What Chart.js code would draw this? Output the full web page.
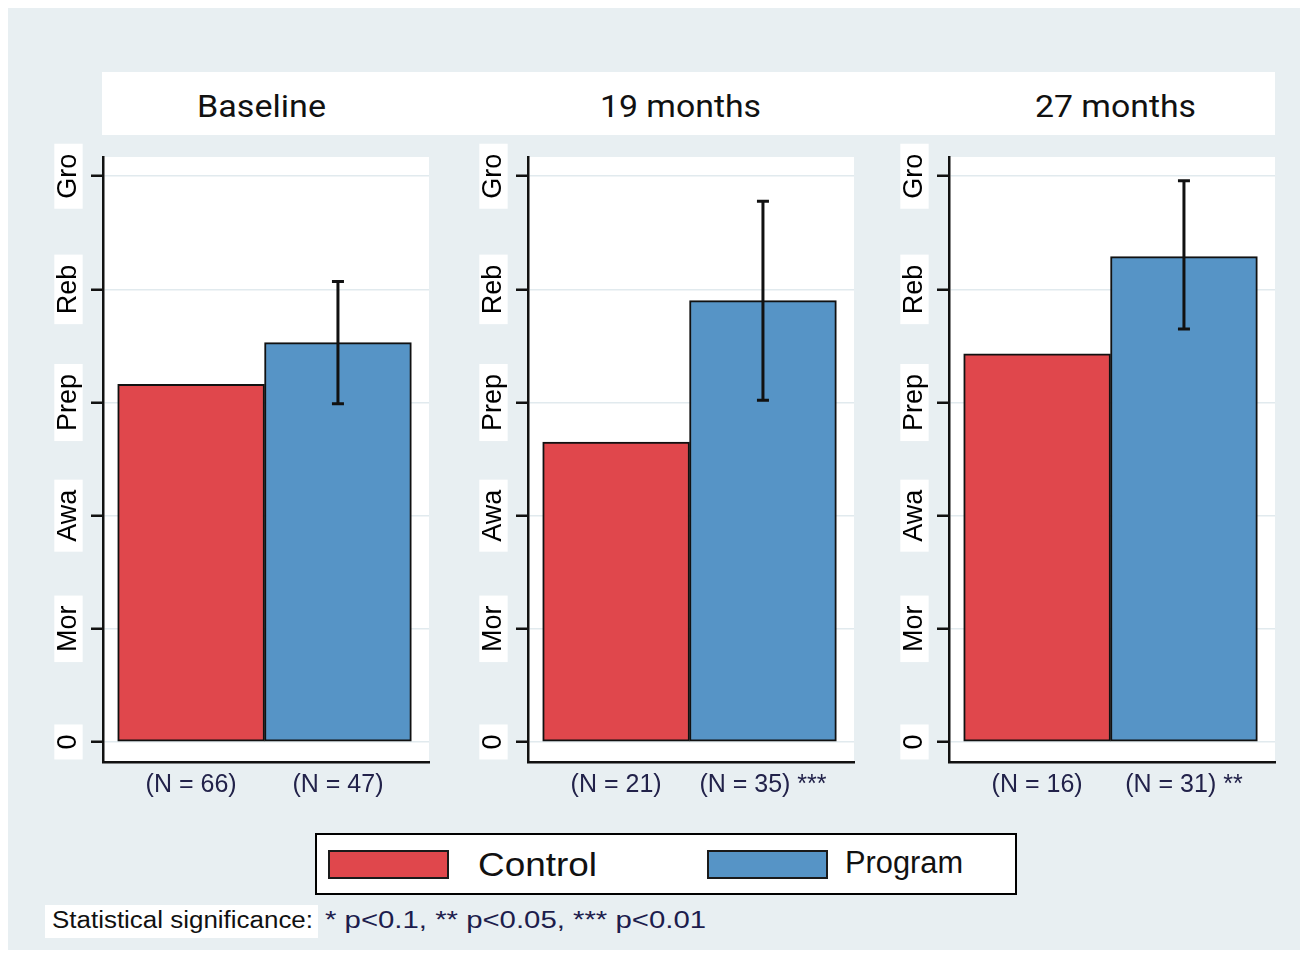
<!DOCTYPE html>
<html>
<head>
<meta charset="utf-8">
<script src="https://cdn.jsdelivr.net/npm/chart.js@4.4.1/dist/chart.umd.min.js"></script>
<style>
  body { margin: 0; width: 1308px; height: 955px; position: relative; background: #fff; overflow: hidden;
         font-family: "Liberation Sans", Arial, sans-serif; }
  .abs { position: absolute; }
  #bg { left: 8px; top: 8px; width: 1292px; height: 942px; background: #e8eff2; }
  #head { left: 102px; top: 72px; width: 1173px; height: 63px; background: #fff; }
  .txt { position: absolute; white-space: nowrap; line-height: 1; transform-origin: left top; }
  .title { font-family: Roboto, sans-serif; font-size: 31px; color: #111; }
  canvas.panel { position: absolute; }
  #legend { left: 315px; top: 833px; width: 698px; height: 58px; border: 2px solid #000; background: #fff; }
  .sw { position: absolute; border: 2px solid #1a1a1a; box-sizing: border-box; }
  #sigbox { left: 45px; top: 905px; width: 273px; height: 33px; background: #fff; }
</style>
</head>
<body>
<div id="bg" class="abs"></div>
<div id="head" class="abs"></div>
<div id="legend" class="abs"></div>
<div id="sigbox" class="abs"></div>
<canvas id="p0" class="panel" width="390" height="669" style="left:43px;top:141px"></canvas>
<canvas id="p1" class="panel" width="390" height="669" style="left:468px;top:141px"></canvas>
<canvas id="p2" class="panel" width="390" height="669" style="left:889px;top:141px"></canvas>

<script>
// values (0 = lowest stage, 5 = Gro)
const panelTitles = ["Baseline", "19 months", "27 months"];
const yValues = [0, 1, 2, 3, 4, 5];
const yLabels = ["0", "Mor", "Awa", "Prep", "Reb", "Gro"];
const controlMeans = [3.16, 2.65, 3.43];
const programMeans = [3.53, 3.90, 4.29];
const programLow = [2.99, 3.02, 3.65];
const programHigh = [4.07, 4.78, 4.96];
const controlLabels = ["(N = 66)", "(N = 21)", "(N = 16)"];
const programLabels = ["(N = 47)", "(N = 35) ***", "(N = 31) **"];
const seriesNames = ["Control", "Program"];

const RED = "#e0474c";
const BLUE = "#5694c6";

Chart.defaults.font.family = '"Liberation Sans", Arial, sans-serif';

// white plotting region
const plotBg = {
  id: "plotBg",
  beforeDraw(chart) {
    const { ctx, chartArea: a } = chart;
    ctx.save();
    ctx.fillStyle = "#fff";
    ctx.fillRect(a.left, a.top, a.right - a.left, a.bottom - a.top);
    ctx.restore();
  }
};

function errorBars(i) {
  return {
    id: "errorBars",
    afterDatasetsDraw(chart) {
      const { ctx } = chart;
      const xs = chart.scales.x, ys = chart.scales.y;
      const x = xs.getPixelForValue(1);
      const top = ys.getPixelForValue(programHigh[i]);
      const bot = ys.getPixelForValue(programLow[i]);
      ctx.save();
      ctx.strokeStyle = "#111";
      ctx.lineWidth = 3;
      ctx.beginPath();
      ctx.moveTo(x, top); ctx.lineTo(x, bot);
      ctx.moveTo(x - 6, top); ctx.lineTo(x + 6, top);
      ctx.moveTo(x - 6, bot); ctx.lineTo(x + 6, bot);
      ctx.stroke();
      ctx.restore();
    }
  };
}

function makePanel(i) {
  return new Chart(document.getElementById("p" + i), {
    type: "bar",
    data: {
      datasets: [
        { label: seriesNames[0], data: [{ x: 0, y: controlMeans[i] }], backgroundColor: RED },
        { label: seriesNames[1], data: [{ x: 1, y: programMeans[i] }], backgroundColor: BLUE }
      ]
    },
    options: {
      responsive: false,
      animation: false,
      layout: { padding: { top: 16, right: 4 } },
      plugins: { legend: { display: false }, tooltip: { enabled: false } },
      datasets: {
        bar: {
          grouped: false,
          categoryPercentage: 1,
          barPercentage: 1,
          borderColor: "#111",
          borderWidth: 2,
          borderSkipped: false
        }
      },
      scales: {
        x: {
          type: "linear",
          min: -0.6,
          max: 1.62,
          bounds: "data",
          offset: false,
          afterBuildTicks: (s) => { s.ticks = [{ value: 0 }, { value: 1 }]; },
          afterFit: (s) => { s.height = 48; },
          ticks: {
            callback: (v) => (v === 0 ? controlLabels[i] : programLabels[i]),
            color: "#22224a",
            font: { size: 25 },
            padding: 0,
            maxRotation: 0
          },
          grid: { display: false },
          border: { color: "#111", width: 2.5 }
        },
        y: {
          min: -0.177,
          max: 5.17,
          bounds: "data",
          afterBuildTicks: (s) => { s.ticks = yValues.map((v) => ({ value: v })); },
          afterFit: (s) => { s.width = 60; },
          ticks: {
            callback: (v) => yLabels[yValues.indexOf(v)],
            color: "#000",
            font: { size: 27, lineHeight: 1.05 },
            minRotation: 90,
            maxRotation: 90,
            crossAlign: "center",
            padding: -6,
            showLabelBackdrop: true,
            backdropColor: "#fff",
            backdropPadding: { left: 10, right: 10, top: 0, bottom: 0 }
          },
          grid: {
            color: "#e1eaee",
            lineWidth: 1.5,
            tickColor: "#111",
            tickLength: 12,
            tickWidth: 2.5
          },
          border: { color: "#111", width: 2.5 }
        }
      }
    },
    plugins: [plotBg, errorBars(i)]
  });
}

[0, 1, 2].forEach(makePanel);

// text overlays: titles, legend, footnote
function addText(str, left, top, width, cls, style) {
  const el = document.createElement("div");
  el.className = "txt " + (cls || "");
  el.textContent = str;
  Object.assign(el.style, style || {});
  el.style.left = left + "px";
  el.style.top = top + "px";
  document.body.appendChild(el);
  const k = width / el.getBoundingClientRect().width;
  el.style.transform = "scaleX(" + k.toFixed(3) + ")";
  return el;
}

addText(panelTitles[0], 197, 91, 129, "title");
addText(panelTitles[1], 600, 91, 161, "title");
addText(panelTitles[2], 1035, 91, 161, "title");

function swatch(color, left) {
  const el = document.createElement("div");
  el.className = "sw";
  Object.assign(el.style, { left: left + "px", top: "850px", width: "121px", height: "29px", background: color });
  document.body.appendChild(el);
}
swatch(RED, 328);
swatch(BLUE, 707);
addText(seriesNames[0], 478, 848, 119, "", { fontSize: "33px", color: "#111" });
addText(seriesNames[1], 845, 847, 118, "", { fontSize: "31px", color: "#111" });

addText("Statistical significance:", 52, 909, 261, "", { fontSize: "23px", color: "#111" });
addText("* p<0.1, ** p<0.05, *** p<0.01", 325, 909, 381, "", { fontSize: "23px", color: "#1d1d4d" });
</script>
</body>
</html>
